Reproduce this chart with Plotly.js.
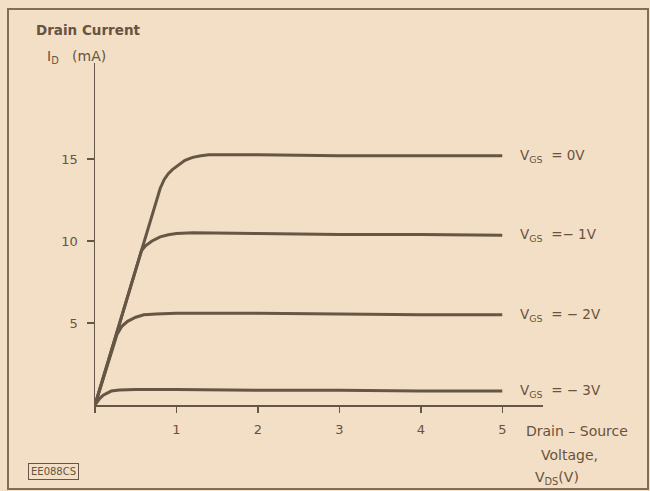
<!DOCTYPE html>
<html>
<head>
<meta charset="utf-8">
<script src="https://cdn.plot.ly/plotly-3.0.1.min.js"></script>
<style>html,body{margin:0;padding:0;background:#f3dfc6;}#chart{width:650px;height:491px;}</style>
</head>
<body>
<div id="chart"></div>
<script>
// Drain-source voltage (V) and drain current (mA) for each gate voltage curve
const vds_0V = [0, 0.2, 0.4, 0.6, 0.8, 0.85, 0.9, 0.95, 1.0, 1.05, 1.1, 1.15, 1.2, 1.3, 1.4, 2, 3, 4, 5];
const id_0V  = [0, 3.3, 6.6, 9.9, 13.2, 13.75, 14.1, 14.35, 14.55, 14.75, 14.9, 15.0, 15.1, 15.2, 15.25, 15.25, 15.2, 15.2, 15.2];

const vds_m1V = [0, 0.2, 0.4, 0.57, 0.62, 0.7, 0.8, 0.9, 1.0, 1.2, 2, 3, 4, 5];
const id_m1V  = [0, 3.3, 6.6, 9.4, 9.7, 10.0, 10.25, 10.38, 10.45, 10.5, 10.45, 10.4, 10.4, 10.35];

const vds_m2V = [0, 0.1, 0.2, 0.27, 0.33, 0.4, 0.5, 0.6, 0.75, 1, 2, 3, 4, 5];
const id_m2V  = [0, 1.65, 3.3, 4.3, 4.8, 5.1, 5.35, 5.5, 5.55, 5.6, 5.6, 5.55, 5.5, 5.5];

const vds_m3V = [0, 0.05, 0.1, 0.15, 0.2, 0.3, 0.5, 1, 2, 3, 4, 5];
const id_m3V  = [0, 0.35, 0.6, 0.75, 0.85, 0.92, 0.95, 0.95, 0.9, 0.9, 0.85, 0.85];

const curveLabels = ["V<sub>GS</sub>  = 0V", "V<sub>GS</sub>  =− 1V", "V<sub>GS</sub>  = − 2V", "V<sub>GS</sub>  = − 3V"];
const xTickVals = [0, 1, 2, 3, 4, 5];
const xTickText = ["", "1", "2", "3", "4", "5"];
const yTickVals = [5, 10, 15];
const yTickText = ["5", "10", "15"];

const FONT = "'DejaVu Sans', sans-serif";
const INK = "#655646";
const TXT = "#67533f";

// plot area in pixels
const L = 95, R = 543, T = 63, B = 405;
const px = x => (x - L) / (R - L);
const py = y => (B - y) / (B - T);

const series = [[vds_0V, id_0V], [vds_m1V, id_m1V], [vds_m2V, id_m2V], [vds_m3V, id_m3V]];
const traces = series.map(s => ({
  x: s[0], y: s[1], type: 'scatter', mode: 'lines',
  line: {color: INK, width: 3}, hoverinfo: 'skip', showlegend: false
}));

const labelYs = [id_0V[id_0V.length-1], id_m1V[id_m1V.length-1], id_m2V[id_m2V.length-1], id_m3V[id_m3V.length-1]];
const annotations = curveLabels.map((t, i) => ({
  x: 5.19, y: labelYs[i], xref: 'x', yref: 'y', text: t, showarrow: false,
  xanchor: 'left', yanchor: 'middle', font: {family: FONT, size: 13.5, color: TXT}
}));

annotations.push(
  {x: px(34), y: py(30), xref: 'paper', yref: 'paper', text: '<b>Drain Current</b>', showarrow: false,
   xanchor: 'left', yanchor: 'middle', font: {family: FONT, size: 13.5, color: TXT}},
  {x: px(45), y: py(57), xref: 'paper', yref: 'paper', text: 'I<sub>D</sub>   (mA)', showarrow: false,
   xanchor: 'left', yanchor: 'middle', font: {family: FONT, size: 14, color: TXT}},
  {x: px(577), y: py(431), xref: 'paper', yref: 'paper', text: 'Drain – Source', showarrow: false,
   xanchor: 'center', yanchor: 'middle', font: {family: FONT, size: 14, color: TXT}},
  {x: px(569), y: py(455), xref: 'paper', yref: 'paper', text: 'Voltage,', showarrow: false,
   xanchor: 'center', yanchor: 'middle', font: {family: FONT, size: 14, color: TXT}},
  {x: px(557), y: py(478), xref: 'paper', yref: 'paper', text: 'V<sub>DS</sub>(V)', showarrow: false,
   xanchor: 'center', yanchor: 'middle', font: {family: FONT, size: 14, color: TXT}},
  {x: px(53), y: py(471), xref: 'paper', yref: 'paper', text: 'EE088CS', showarrow: false,
   xanchor: 'center', yanchor: 'middle', font: {family: FONT, size: 10, color: TXT},
   bordercolor: INK, borderwidth: 1, borderpad: 2}
);

const shapes = [
  {type: 'rect', xref: 'paper', yref: 'paper', x0: px(8), x1: px(648), y0: py(9), y1: py(489),
   line: {color: '#846c59', width: 2}, fillcolor: 'rgba(0,0,0,0)', layer: 'below'}
];

const layout = {
  width: 650, height: 491,
  margin: {l: L, r: 650 - R, t: T, b: 491 - B},
  paper_bgcolor: '#f3dfc6', plot_bgcolor: 'rgba(0,0,0,0)',
  font: {family: FONT, size: 13, color: TXT},
  xaxis: {range: [0, 5.5], showgrid: false, zeroline: false, showline: true, linecolor: INK, linewidth: 1.5,
          ticks: 'outside', ticklen: 6, tickcolor: INK, tickwidth: 1.5, ticklabelstandoff: 6,
          tickvals: xTickVals, ticktext: xTickText, tickfont: {family: FONT, size: 13, color: TXT}},
  yaxis: {range: [0, 20.85], showgrid: false, zeroline: false, showline: true, linecolor: INK, linewidth: 1.5,
          ticks: 'outside', ticklen: 7, tickcolor: INK, tickwidth: 1.5, ticklabelstandoff: 6,
          tickvals: yTickVals, ticktext: yTickText, tickfont: {family: FONT, size: 13, color: TXT}},
  annotations: annotations,
  shapes: shapes,
  showlegend: false
};

Plotly.newPlot('chart', traces, layout, {displayModeBar: false, staticPlot: true});
</script>
</body>
</html>
